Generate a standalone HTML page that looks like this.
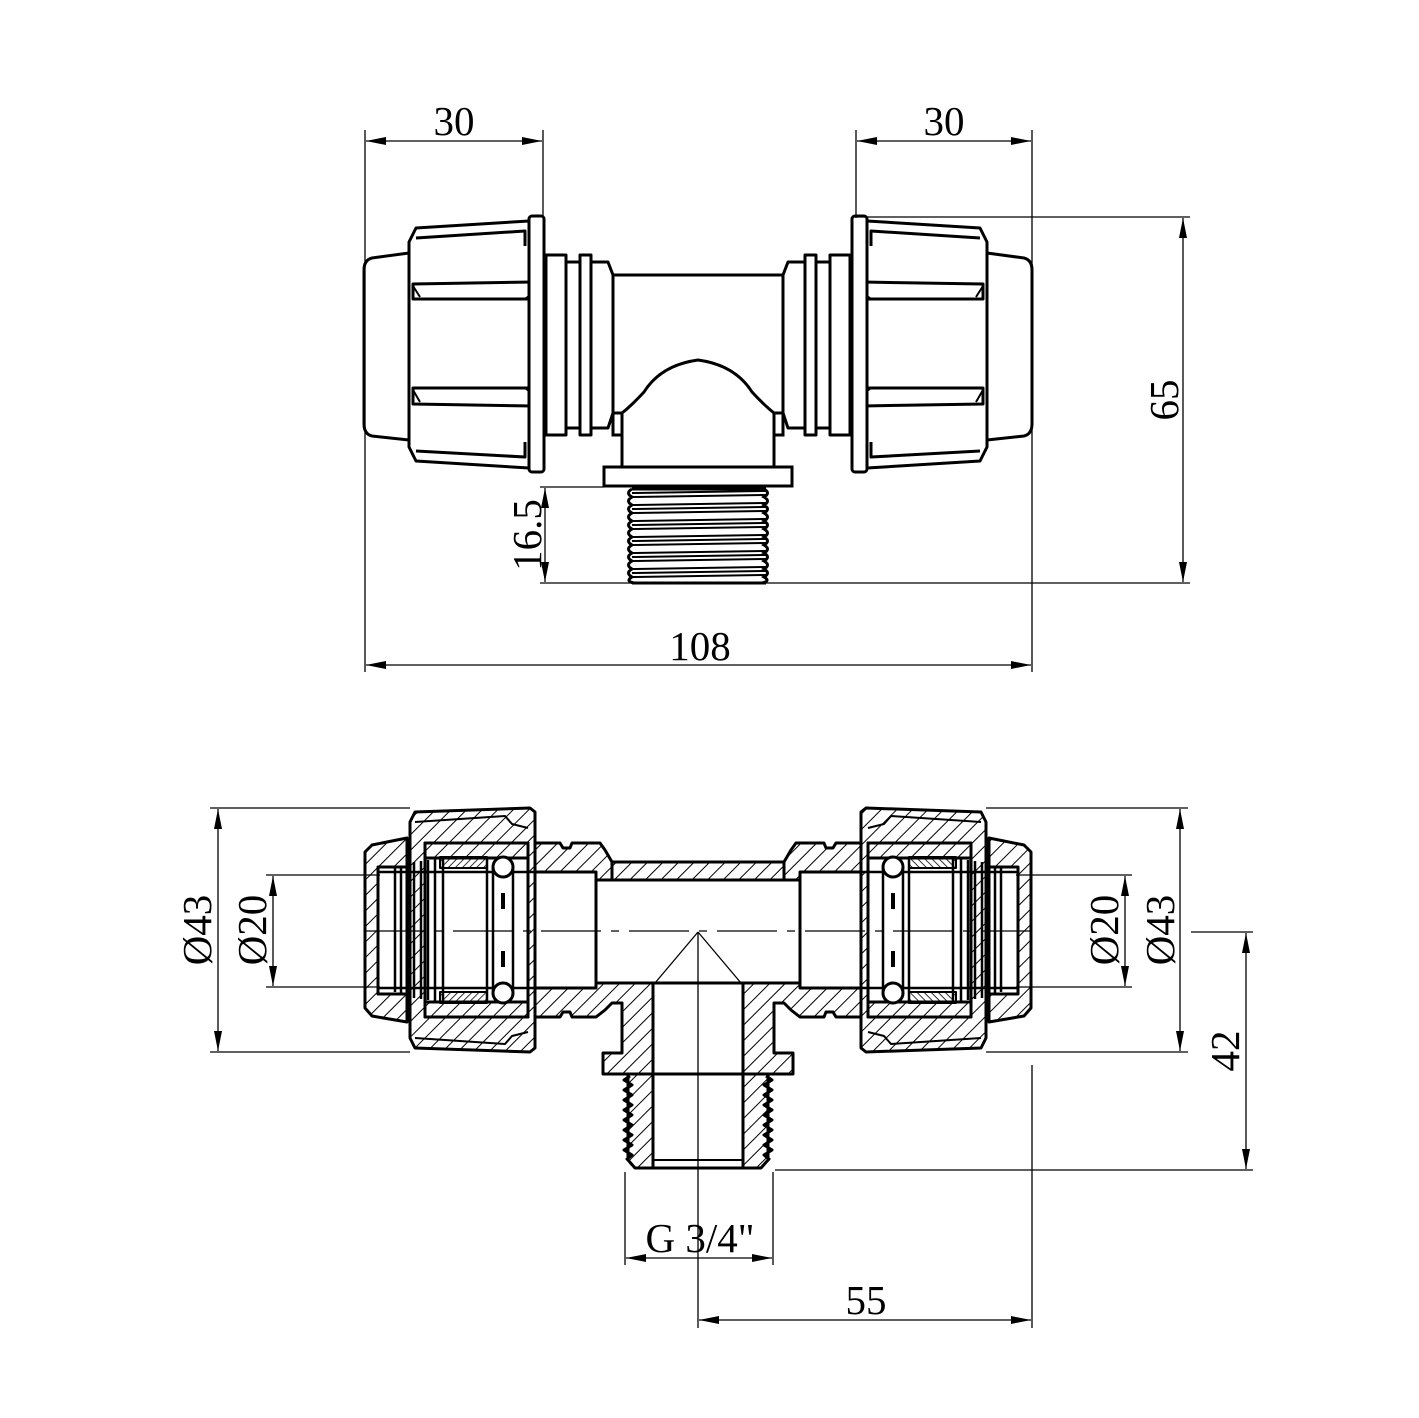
<!DOCTYPE html>
<html><head><meta charset="utf-8"><style>
html,body{margin:0;padding:0;background:#fff;}
svg{display:block;}
text{font-family:"Liberation Serif",serif;font-size:41px;fill:#000;}
</style></head><body>
<svg width="1419" height="1418" viewBox="0 0 1419 1418" xmlns="http://www.w3.org/2000/svg">
<defs>
<pattern id="h" width="11" height="11" patternUnits="userSpaceOnUse" patternTransform="rotate(45)">
<line x1="0" y1="0" x2="0" y2="11" stroke="#000" stroke-width="2"/>
</pattern>
<pattern id="h2" width="11" height="11" patternUnits="userSpaceOnUse" patternTransform="rotate(-45)">
<line x1="0" y1="0" x2="0" y2="11" stroke="#000" stroke-width="2"/>
</pattern>
<pattern id="hf" width="5" height="5" patternUnits="userSpaceOnUse" patternTransform="rotate(45)">
<line x1="0" y1="0" x2="0" y2="5" stroke="#000" stroke-width="1.6"/>
</pattern>
<marker id="a" viewBox="0 0 20 8" refX="20" refY="4" markerWidth="20" markerHeight="8" markerUnits="userSpaceOnUse" orient="auto-start-reverse">
<path d="M0,0 L20,4 L0,8 Z" fill="#000"/>
</marker>
<g id="topL" fill="#fff" stroke="#000" stroke-width="3" stroke-linejoin="round">
<path d="M409,253 L372,258 Q364,260 364,270 L364,424 Q364,434 372,436 L409,440 Z"/>
<path d="M409,242 L416,228 L529,221 L529,468 L416,461 L409,447 Z"/>
<path d="M416,238 L525,231 L525,246 M416,451 L525,457 L525,442" fill="none"/>
<path d="M413,284 L534,282 L534,299 L413,299 Z M413,388 L534,388 L534,406 L413,404 Z" />
<path d="M413,286 L420,297 M413,390 L420,402 M525,299 L534,292 M525,388 L534,395" fill="none" stroke-width="2"/>
<rect x="529" y="216" width="15" height="256" rx="3"/>
<rect x="546" y="255" width="20" height="180"/>
<rect x="566" y="262" width="14" height="166"/>
<rect x="580" y="255" width="11" height="180"/>
<path d="M591,262 L608,262 L613,275 L613,413 L608,428 L591,428 Z"/>
</g>
<g id="botL" stroke="#000" stroke-width="3" stroke-linejoin="round">
<path fill-rule="evenodd" d="M372,845 L407,838 L407,1022 L372,1016 L365,1008 L365,852 Z M378,867 L407,867 L407,994 L378,994 Z"/>
<path fill-rule="evenodd" d="M410,822 L415,812 L530,808 L535,812 L535,1048 L530,1052 L415,1048 L410,1038 Z M425,843 L528,843 L528,1017 L425,1017 Z"/>
<path d="M415,822 L505,816 L512,824 L528,828 M415,1038 L505,1044 L512,1036 L528,1032" fill="none" stroke-width="2"/>
<rect x="425" y="843" width="103" height="15"/>
<rect x="425" y="1002" width="103" height="15"/>
<rect x="440" y="857" width="47" height="11" fill="url(#hf)" stroke-width="2"/>
<rect x="440" y="992" width="47" height="11" fill="url(#hf)" stroke-width="2"/>
<g fill="none" stroke-width="2.5">
<line x1="395" y1="868" x2="395" y2="992"/><line x1="401" y1="866" x2="401" y2="994"/>
<line x1="407" y1="864" x2="407" y2="996"/><line x1="414" y1="862" x2="414" y2="998"/>
<line x1="421" y1="861" x2="421" y2="999"/><line x1="428" y1="860" x2="428" y2="1000"/>
<line x1="435" y1="859" x2="435" y2="1001"/><line x1="443" y1="858" x2="443" y2="1002"/>
<line x1="487" y1="858" x2="487" y2="1002"/>
<line x1="378" y1="872" x2="596" y2="872"/><line x1="378" y1="988" x2="596" y2="988"/>
<line x1="493" y1="868" x2="493" y2="994"/><line x1="513" y1="868" x2="513" y2="994"/>
</g>
<circle cx="503" cy="867" r="10" fill="#fff"/>
<circle cx="503" cy="993" r="10" fill="#fff"/>
<rect x="501" y="893" width="4" height="16" fill="#000" stroke="none"/>
<rect x="501" y="951" width="4" height="16" fill="#000" stroke="none"/>
<path d="M535,843 L560,843 L563,848 L570,848 L572,843 L600,843 L605,850 L612,862 L612,880 L596,880 L596,872 L535,872 Z"/>
<path d="M535,1017 L560,1017 L563,1012 L570,1012 L572,1017 L596,1017 L605,1010 L612,1003 L622,1003 L622,1053 L603,1053 L603,1074 L653,1074 L653,983 L596,983 L596,988 L535,988 Z"/>
<path d="M628,1074 L653,1074 L653,1168 L635,1168 L628,1160 Z"/>
<polyline fill="none" stroke-width="3" points="630,1076 624,1080 632,1085 624,1090 632,1095 624,1100 632,1105 624,1110 632,1115 624,1120 632,1125 624,1130 632,1135 624,1140 632,1145 624,1150 632,1155 626,1160"/>
</g>
</defs>

<rect x="613" y="275" width="170" height="160" fill="#fff" stroke="#000" stroke-width="3"/>
<use href="#topL"/>
<use href="#topL" transform="translate(1396,0) scale(-1,1)"/>
<path d="M622,413 L622,467 L774,467 L774,413 Q764,405 752,392 Q735,365 698,360 Q661,365 644,392 Q632,405 622,413 Z" fill="#fff" stroke="#000" stroke-width="3"/>
<line x1="613" y1="413" x2="622" y2="413" stroke="#000" stroke-width="3"/>
<line x1="774" y1="413" x2="783" y2="413" stroke="#000" stroke-width="3"/>
<rect x="604" y="467" width="188" height="19" fill="#fff" stroke="#000" stroke-width="3"/>
<g stroke="#000" stroke-width="3" fill="none">
<path d="M632,489 L766,489 M632,583 L766,583"/>
<g id="thr">
<path d="M632,489 Q625,493 632,497 Q625,501 632,505 Q625,509 632,513 Q625,517 632,521 Q625,525 632,529 Q625,533 632,537 Q625,541 632,545 Q625,549 632,553 Q625,557 632,561 Q625,565 632,569 Q625,573 632,577 Q625,581 634,583"/>
</g>
<use href="#thr" transform="translate(1396,0) scale(-1,1)"/>
<path d="M632,493 L766,491 M632,497 L766,495 M632,505 L766,503 M632,509 L766,507 M632,513 L766,511 M632,521 L766,519 M632,525 L766,523 M632,529 L766,527 M632,537 L766,535 M632,541 L766,539 M632,545 L766,543 M632,553 L766,551 M632,557 L766,555 M632,561 L766,559 M632,569 L766,567 M632,573 L766,571 M632,577 L766,575" stroke-width="2"/>
</g>

<rect x="612" y="862" width="172" height="18" fill="url(#h)" stroke="#000" stroke-width="3"/>
<line x1="596" y1="880" x2="800" y2="880" stroke="#000" stroke-width="3"/>
<line x1="596" y1="983" x2="800" y2="983" stroke="#000" stroke-width="3"/>
<line x1="596" y1="872" x2="596" y2="988" stroke="#000" stroke-width="3"/>
<line x1="800" y1="872" x2="800" y2="988" stroke="#000" stroke-width="3"/>
<use href="#botL" fill="url(#h)"/>
<use href="#botL" fill="url(#h2)" transform="translate(1396,0) scale(-1,1)"/>
<line x1="653" y1="1074" x2="743" y2="1074" stroke="#000" stroke-width="3"/>
<line x1="635" y1="1168" x2="761" y2="1168" stroke="#000" stroke-width="3"/>
<line x1="653" y1="1160" x2="743" y2="1160" stroke="#000" stroke-width="2"/>
<g stroke="#000" stroke-width="1.3" fill="none">
<line x1="698" y1="932" x2="655" y2="983"/>
<line x1="698" y1="932" x2="741" y2="983"/>
<line x1="698" y1="932" x2="698" y2="1228"/>
<line x1="365" y1="931" x2="1032" y2="931" stroke-dasharray="60,10,8,10"/>
</g>

<g stroke="#000" stroke-width="1.3" fill="none">
<line x1="365" y1="130" x2="365" y2="672"/>
<line x1="543" y1="130" x2="543" y2="218"/>
<line x1="856" y1="130" x2="856" y2="218"/>
<line x1="1032" y1="130" x2="1032" y2="672"/>
<line x1="366" y1="141" x2="542" y2="141" marker-start="url(#a)" marker-end="url(#a)"/>
<line x1="857" y1="141" x2="1031" y2="141" marker-start="url(#a)" marker-end="url(#a)"/>
<line x1="366" y1="665" x2="1031" y2="665" marker-start="url(#a)" marker-end="url(#a)"/>
<line x1="856" y1="217" x2="1190" y2="217"/>
<line x1="540" y1="583" x2="1190" y2="583"/>
<line x1="1183" y1="218" x2="1183" y2="582" marker-start="url(#a)" marker-end="url(#a)"/>
<line x1="540" y1="487" x2="604" y2="487"/>
<line x1="545" y1="488" x2="545" y2="582" marker-start="url(#a)" marker-end="url(#a)"/>
<line x1="210" y1="808" x2="410" y2="808"/>
<line x1="210" y1="1052" x2="410" y2="1052"/>
<line x1="218" y1="809" x2="218" y2="1051" marker-start="url(#a)" marker-end="url(#a)"/>
<line x1="266" y1="875" x2="380" y2="875"/>
<line x1="266" y1="987" x2="380" y2="987"/>
<line x1="273" y1="876" x2="273" y2="986" marker-start="url(#a)" marker-end="url(#a)"/>
<line x1="1016" y1="875" x2="1132" y2="875"/>
<line x1="1016" y1="987" x2="1132" y2="987"/>
<line x1="1125" y1="876" x2="1125" y2="986" marker-start="url(#a)" marker-end="url(#a)"/>
<line x1="986" y1="808" x2="1188" y2="808"/>
<line x1="986" y1="1052" x2="1188" y2="1052"/>
<line x1="1180" y1="809" x2="1180" y2="1051" marker-start="url(#a)" marker-end="url(#a)"/>
<line x1="1191" y1="932" x2="1253" y2="932"/>
<line x1="775" y1="1170" x2="1253" y2="1170"/>
<line x1="1246" y1="933" x2="1246" y2="1169" marker-start="url(#a)" marker-end="url(#a)"/>
<line x1="1032" y1="1065" x2="1032" y2="1328"/>
<line x1="625" y1="1172" x2="625" y2="1265"/>
<line x1="773" y1="1172" x2="773" y2="1265"/>
<line x1="626" y1="1258" x2="772" y2="1258" marker-start="url(#a)" marker-end="url(#a)"/>
<line x1="698" y1="1228" x2="698" y2="1328"/>
<line x1="699" y1="1320" x2="1031" y2="1320" marker-start="url(#a)" marker-end="url(#a)"/>
</g>
<g text-anchor="middle">
<text x="454" y="135">30</text>
<text x="944" y="135">30</text>
<text x="700" y="660">108</text>
<text x="700" y="1252">G 3/4"</text>
<text x="866" y="1314">55</text>
<text transform="translate(1178,400) rotate(-90)">65</text>
<text transform="translate(541,535) rotate(-90)">16.5</text>
<text transform="translate(211,930) rotate(-90)">Ø43</text>
<text transform="translate(266,930) rotate(-90)">Ø20</text>
<text transform="translate(1118,930) rotate(-90)">Ø20</text>
<text transform="translate(1174,930) rotate(-90)">Ø43</text>
<text transform="translate(1239,1051) rotate(-90)">42</text>
</g>
</svg>
</body></html>
